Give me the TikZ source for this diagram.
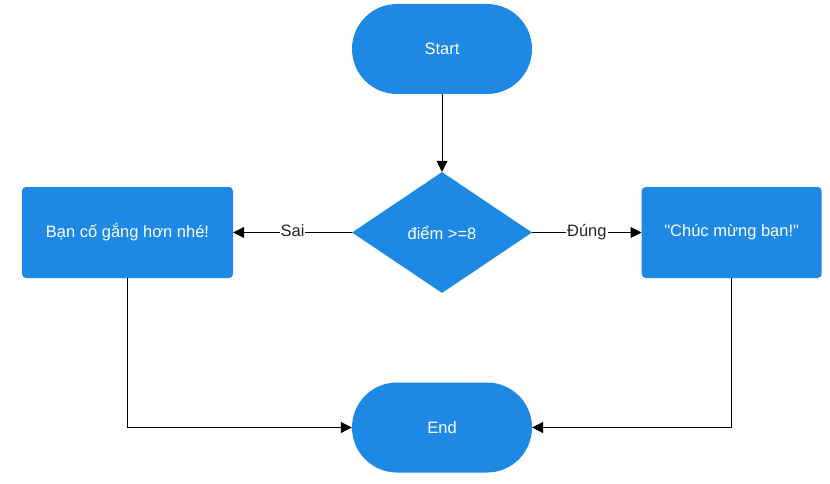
\documentclass[tikz,border=0pt]{standalone}
\usepackage{fontspec}
\setmainfont{Liberation Sans}
\definecolor{flowblue}{RGB}{30, 136, 229}
\usetikzlibrary{arrows.meta, shapes.geometric, positioning}

\tikzset{
	terminal/.style={draw=none,fill=flowblue,text=white,rounded corners=45pt,
		minimum width=180pt,minimum height=90pt,inner sep=0pt},
	processbox/.style={draw=none,fill=flowblue,text=white,rounded corners=4pt,
		minimum height=91pt,inner sep=0pt},
	decision/.style={diamond,draw=none,fill=flowblue,text=white,
		minimum width=180pt,minimum height=121pt,inner sep=0pt},
	flow/.style={-{Triangle[length=11pt,width=11pt]},line width=1pt,black},
	edgelabel/.style={fill=white,inner sep=1pt,text=black!85,
		text height=11.5pt,text depth=3.5pt}
}

\begin{document}
\begin{tikzpicture}[x=1pt,y=-1pt,font=\fontsize{16.5}{19}\selectfont]
	\useasboundingbox (0,0) rectangle (830,484);
	
	\node[terminal] (start) at (442,49) {Start};
	\node[decision] (decide) at (442,232.5) {điểm >=8};
	\node[processbox,minimum width=211pt] (fail) at (127.5,232.5) {Bạn cố gắng hơn nhé!};
	\node[processbox,minimum width=180pt] (pass) at (731.7,232.5) {\textquotedbl Chúc mừng bạn!\textquotedbl};
	\node[terminal] (stop) at (442,427.5) {End};
	
	\draw[flow] (start) -- (decide);
	\draw[flow] (decide) -- node[edgelabel] {Sai} (fail);
	\draw[flow] (decide) -- node[edgelabel] {Đúng} (pass);
	
	\draw[flow] (fail) |- (stop);
	\draw[flow] (pass) |- (stop);
\end{tikzpicture}
\end{document}
